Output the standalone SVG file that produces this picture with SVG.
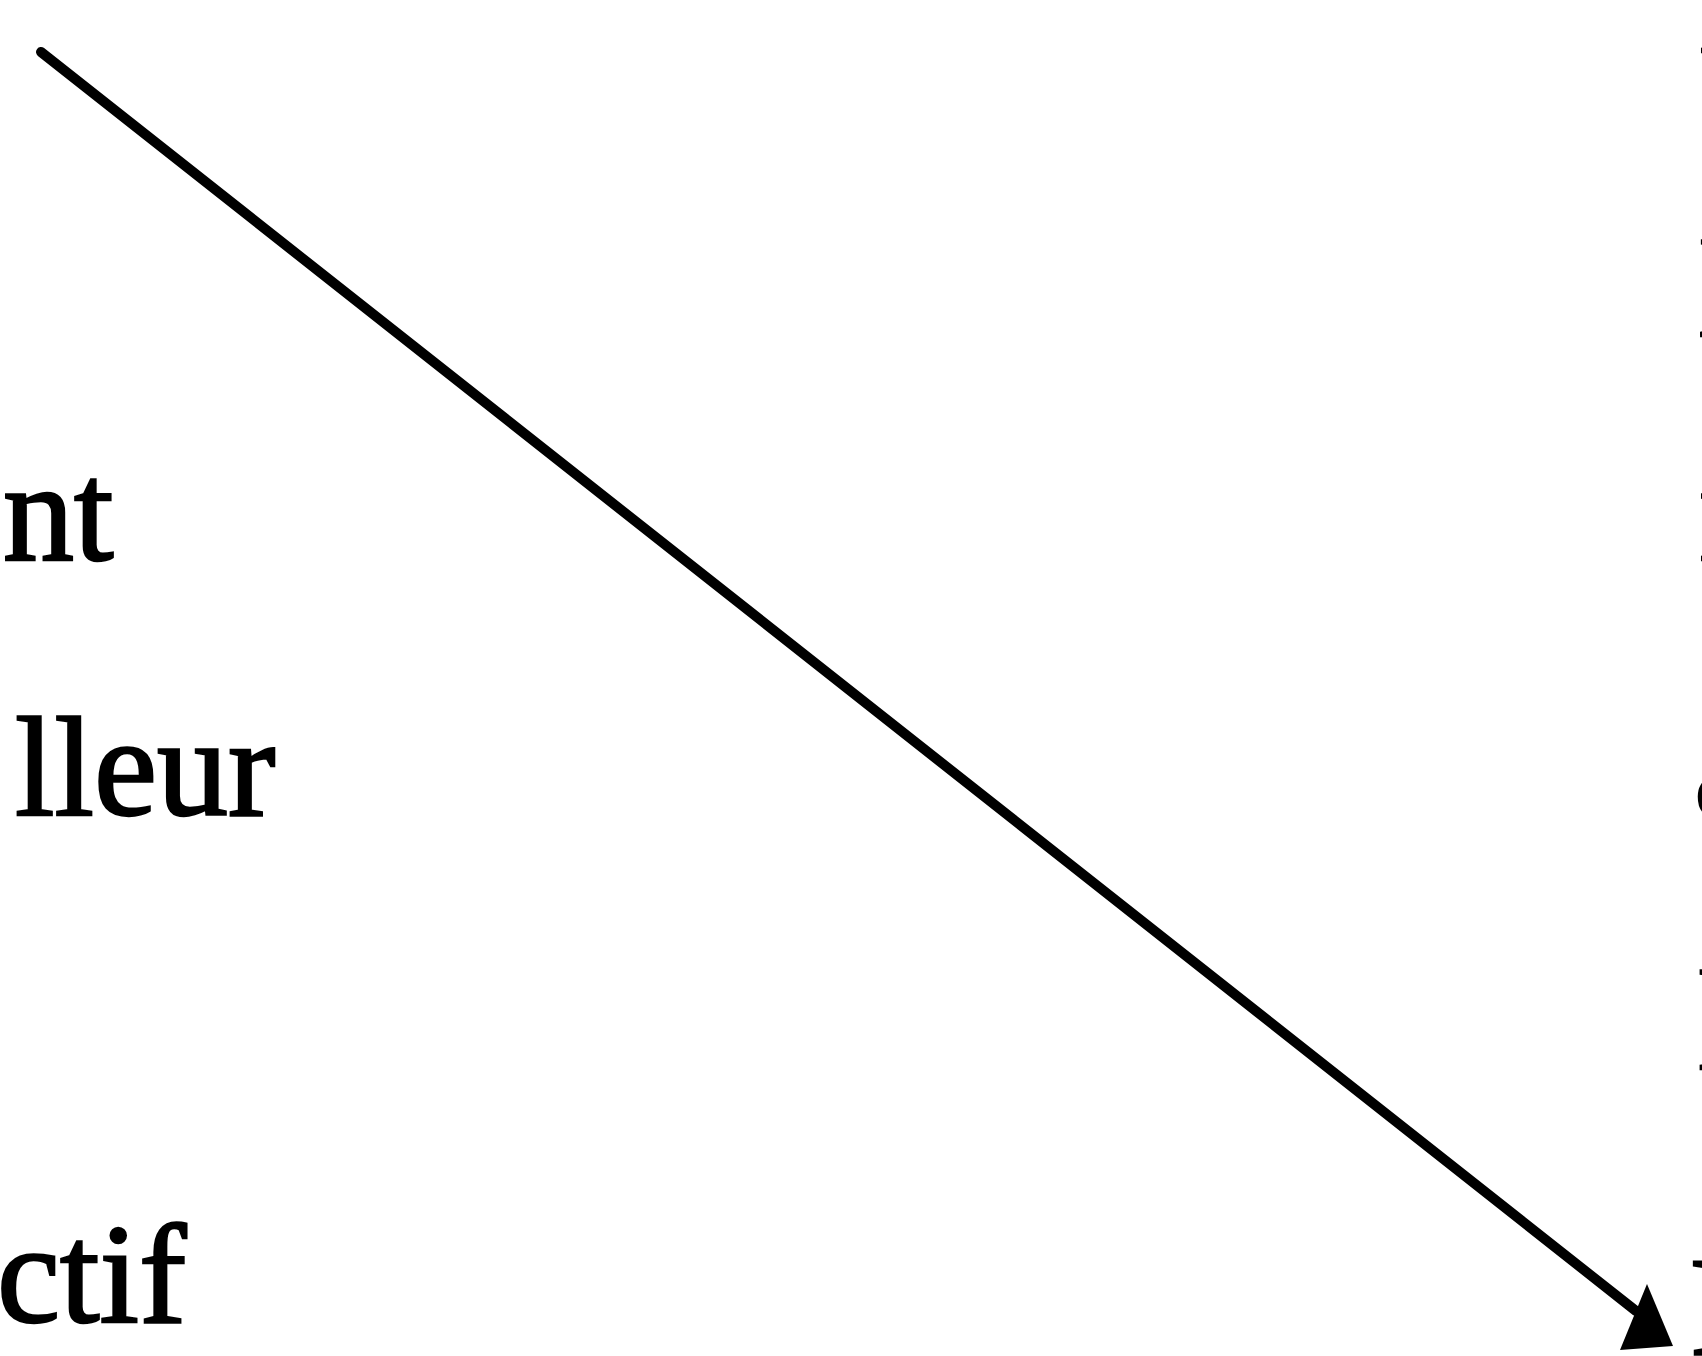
<svg xmlns="http://www.w3.org/2000/svg" width="1702" height="1356" viewBox="0 0 1702 1356">
  <style>
    .lbl { font-family: "Liberation Serif", "Times New Roman", serif; font-size: 142px; fill: #000; stroke: #000; stroke-width: 2.5; }
    .edge { fill: none; stroke: #000; stroke-width: 10; stroke-linecap: round; }
  </style>
  <rect width="1702" height="1356" fill="#fff"/>
  <g id="left-labels">
    <g id="node-nt"><text class="lbl" x="3" y="560">nt</text></g>
    <g id="node-lleur"><text class="lbl" x="15" y="815">lleur</text></g>
    <g id="node-ctif"><text class="lbl" x="-3" y="1322">ctif</text></g>
  </g>
  <g id="right-labels">
    <g id="node-r1"><text class="lbl" x="1699" y="52">n</text></g>
    <g id="node-r2"><text class="lbl" x="1699" y="306">p</text></g>
    <g id="node-r3"><text class="lbl" x="1699" y="560">n</text></g>
    <g id="node-r4"><text class="lbl" x="1694" y="815">a</text></g>
    <g id="node-r5"><text class="lbl" x="1698" y="1069">l</text></g>
    <g id="node-r6"><text class="lbl" x="1690" y="1355">P</text></g>
  </g>
  <g id="connectors">
    <path class="edge" d="M41,52 L1636,1311"/>
    <polygon points="1673,1346 1647,1284 1620,1350" fill="#000"/>
  </g>
</svg>
